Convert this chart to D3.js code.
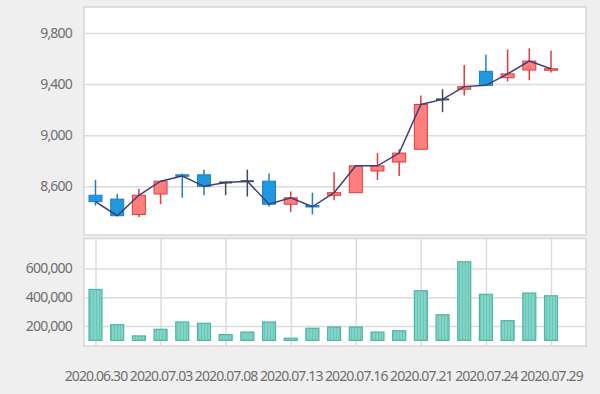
<!DOCTYPE html>
<html>
<head>
<meta charset="utf-8">
<script src="https://cdn.jsdelivr.net/npm/d3@7"></script>
<style>
  html, body { margin: 0; padding: 0; background: #efefef; }
  #svg-container { width: 600px; height: 394px; }
  text { font-family: "Noto Sans", sans-serif; fill: #6e6e6e; }
</style>
</head>
<body>
<div id="svg-container"></div>
<script>
////////////////////////////////////////////////////////////////////
////////////////////////////  Data  ////////////////////////////////
const dates = ["2020.06.30", "2020.07.01", "2020.07.02", "2020.07.03", "2020.07.06", "2020.07.07",
  "2020.07.08", "2020.07.09", "2020.07.10", "2020.07.13", "2020.07.14", "2020.07.15",
  "2020.07.16", "2020.07.17", "2020.07.20", "2020.07.21", "2020.07.22", "2020.07.23",
  "2020.07.24", "2020.07.27", "2020.07.28", "2020.07.29"];
const open  = [8530, 8500, 8380, 8540, 8690, 8690, 8630, 8640, 8640, 8460, 8450, 8530, 8550, 8720, 8790, 8890, 9280, 9360, 9500, 9450, 9510, 9510];
const high  = [8650, 8540, 8580, 8640, 8700, 8730, 8630, 8730, 8700, 8560, 8550, 8710, 8760, 8860, 8890, 9310, 9360, 9550, 9630, 9670, 9680, 9660];
const low   = [8450, 8370, 8360, 8460, 8510, 8530, 8530, 8520, 8440, 8400, 8380, 8490, 8550, 8650, 8680, 8890, 9180, 9310, 9390, 9420, 9430, 9490];
const close = [8480, 8370, 8530, 8640, 8680, 8600, 8630, 8640, 8460, 8510, 8440, 8550, 8760, 8760, 8860, 9240, 9280, 9380, 9390, 9480, 9580, 9520];
const volume = [454000, 209000, 131000, 177000, 228000, 219000, 140000, 158000, 228000, 115000, 184000,
  193000, 193000, 158000, 167000, 445000, 278000, 646000, 420000, 237000, 429000, 410000];
const priceTicks = [8600, 9000, 9400, 9800];
const volumeTicks = [200000, 400000, 600000];
const dateTicks = dates.filter((d, i) => i % 3 === 0);

const data = dates.map((d, i) => ({
  date: d, open: open[i], high: high[i], low: low[i], close: close[i], volume: volume[i],
}));

////////////////////////////////////////////////////////////////////
////////////////////////////  Init  ////////////////////////////////
const svg = d3.select("#svg-container").append("svg")
  .attr("width", 600).attr("height", 394);

const frame = { left: 84, right: 586 };
const pricePanel = { y0: 7, y1: 235 };
const volPanel = { y0: 238.5, y1: 346 };

const xScale = d3.scalePoint().domain(dates).range([95.5, 551]);
const yPrice = d3.scaleLinear().domain([8219, 10003]).range([pricePanel.y1, pricePanel.y0]);
const yVolume = d3.scaleLinear().domain([61000, 808000]).range([volPanel.y1, volPanel.y0]);
const volumeBase = 100000;
const candleW = 13;

// bar stripe pattern
const defs = svg.append("defs");
const pat = defs.append("pattern").attr("id", "stripes")
  .attr("patternUnits", "userSpaceOnUse").attr("width", 3).attr("height", 4);
pat.append("rect").attr("width", 3).attr("height", 4).attr("fill", "#82d4c7");
pat.append("rect").attr("width", 1).attr("height", 4).attr("fill", "#6cc6b8");

// panels
[pricePanel, volPanel].forEach((p) => {
  svg.append("rect")
    .attr("x", frame.left).attr("y", p.y0)
    .attr("width", frame.right - frame.left).attr("height", p.y1 - p.y0)
    .attr("fill", "#fff").attr("stroke", "#d8d8d8").attr("stroke-width", 1.5);
});

////////////////////////////////////////////////////////////////////
////////////////////////////  Price panel  /////////////////////////
const priceAxis = d3.axisLeft(yPrice).tickValues(priceTicks)
  .tickSize(-(frame.right - frame.left)).tickPadding(12).tickFormat(d3.format(","));
svg.append("g").attr("class", "y-axis")
  .attr("transform", `translate(${frame.left},0)`)
  .call(priceAxis)
  .call((g) => g.select(".domain").remove())
  .call((g) => g.selectAll("line").attr("stroke", "#dcdcdc").attr("stroke-width", 1.5))
  .call((g) => g.selectAll("text").attr("font-size", 14).attr("letter-spacing", "-0.8px"));

const colorOf = (d) => d.close > d.open ? "red" : d.close < d.open ? "blue" : "flat";
const strokes = { red: "#e23a3a", blue: "#1b80c6", flat: "#3e4b5a" };
const fills = { red: "#ff7f7f", blue: "#2097de", flat: "#3e4b5a" };

const candles = svg.append("g").selectAll("g").data(data).join("g");

candles.append("line")
  .attr("x1", (d) => xScale(d.date)).attr("x2", (d) => xScale(d.date))
  .attr("y1", (d) => yPrice(d.high)).attr("y2", (d) => yPrice(d.low))
  .attr("stroke", (d) => strokes[colorOf(d)]).attr("stroke-width", 1.5);

candles.filter((d) => d.open !== d.close).append("rect")
  .attr("x", (d) => xScale(d.date) - candleW / 2)
  .attr("y", (d) => yPrice(Math.max(d.open, d.close)))
  .attr("width", candleW)
  .attr("height", (d) => Math.max(1.5, Math.abs(yPrice(d.open) - yPrice(d.close))))
  .attr("fill", (d) => fills[colorOf(d)])
  .attr("stroke", (d) => strokes[colorOf(d)]).attr("stroke-width", 1);

candles.filter((d) => d.open === d.close).append("line")
  .attr("x1", (d) => xScale(d.date) - candleW / 2)
  .attr("x2", (d) => xScale(d.date) + candleW / 2)
  .attr("y1", (d) => yPrice(d.close)).attr("y2", (d) => yPrice(d.close))
  .attr("stroke", strokes.flat).attr("stroke-width", 2);

// close line
const lineGenerator = d3.line().x((d) => xScale(d.date)).y((d) => yPrice(d.close));
svg.append("path").datum(data)
  .attr("d", lineGenerator)
  .attr("fill", "none").attr("stroke", "#3b3f78").attr("stroke-width", 1.5);

////////////////////////////////////////////////////////////////////
////////////////////////////  Volume panel  ////////////////////////
svg.append("g")
  .attr("transform", `translate(0,${volPanel.y1})`)
  .call(d3.axisBottom(xScale).tickValues(dateTicks).tickSize(-(volPanel.y1 - volPanel.y0)).tickFormat(""))
  .call((g) => g.select(".domain").remove())
  .call((g) => g.selectAll("line").attr("stroke", "#dcdcdc").attr("stroke-width", 1.5));

svg.append("g")
  .attr("transform", `translate(${frame.left},0)`)
  .call(d3.axisLeft(yVolume).tickValues(volumeTicks)
    .tickSize(-(frame.right - frame.left)).tickPadding(12).tickFormat(d3.format(",")))
  .call((g) => g.select(".domain").remove())
  .call((g) => g.selectAll("line").attr("stroke", "#dcdcdc").attr("stroke-width", 1.5))
  .call((g) => g.selectAll("text").attr("font-size", 14).attr("letter-spacing", "-0.8px"));

svg.append("g").selectAll("rect").data(data).join("rect")
  .attr("x", (d) => xScale(d.date) - 6.5)
  .attr("y", (d) => yVolume(d.volume))
  .attr("width", 13)
  .attr("height", (d) => yVolume(volumeBase) - yVolume(d.volume))
  .attr("fill", "url(#stripes)")
  .attr("stroke", "#4fb5a6").attr("stroke-width", 1.2);

// date labels
svg.append("g")
  .attr("transform", `translate(0,371)`)
  .call(d3.axisBottom(xScale).tickValues(dateTicks).tickSize(0).tickPadding(0))
  .call((g) => g.select(".domain").remove())
  .call((g) => g.selectAll("text").attr("font-size", 14).attr("letter-spacing", "-0.9px"));
</script>
</body>
</html>
